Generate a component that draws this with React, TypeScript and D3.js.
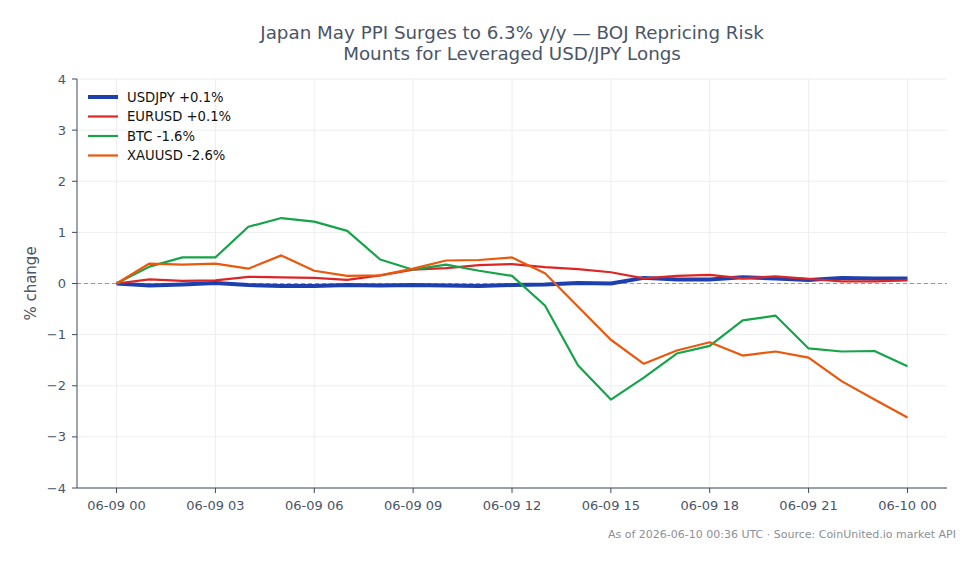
import React from 'react';
import * as d3 from 'd3';

// hourly % change from 06-09 00:00 UTC
const hours = d3.range(0, 25);
const usdjpy = [0, -0.04, -0.02, 0.01, -0.03, -0.05, -0.05, -0.03, -0.04, -0.03, -0.04, -0.05, -0.03, -0.02, 0.01, 0, 0.11, 0.08, 0.08, 0.12, 0.1, 0.07, 0.11, 0.1, 0.1];
const eurusd = [0, 0.08, 0.05, 0.06, 0.13, 0.12, 0.11, 0.07, 0.16, 0.27, 0.3, 0.36, 0.38, 0.32, 0.28, 0.22, 0.1, 0.15, 0.17, 0.1, 0.14, 0.09, 0.04, 0.04, 0.06];
const btc = [0, 0.33, 0.51, 0.51, 1.11, 1.28, 1.21, 1.03, 0.47, 0.27, 0.37, 0.25, 0.15, -0.43, -1.6, -2.27, -1.84, -1.37, -1.22, -0.72, -0.63, -1.27, -1.33, -1.32, -1.62];
const xauusd = [0, 0.39, 0.37, 0.39, 0.29, 0.55, 0.25, 0.15, 0.16, 0.29, 0.45, 0.46, 0.51, 0.2, -0.45, -1.1, -1.57, -1.31, -1.15, -1.41, -1.33, -1.45, -1.91, -2.27, -2.62];

const seriesNames = ['USDJPY', 'EURUSD', 'BTC', 'XAUUSD'];
const seriesValues = [usdjpy, eurusd, btc, xauusd];
const seriesColors = ['#1e40af', '#dc2626', '#16a34a', '#ea580c'];
const seriesWidths = [4, 2.2, 2.2, 2.2];

const xTickHours = [0, 3, 6, 9, 12, 15, 18, 21, 24];
const xTickLabels = ['06-09 00', '06-09 03', '06-09 06', '06-09 09', '06-09 12', '06-09 15', '06-09 18', '06-09 21', '06-10 00'];
const yTicks = [-4, -3, -2, -1, 0, 1, 2, 3, 4];

const W = 979;
const H = 564;
const margin = { top: 79, right: 32, bottom: 76, left: 77 };
const font = '"DejaVu Sans", sans-serif';
const ink = '#4a5568';

const fmtPct = (v: number) => `${v >= 0 ? '+' : ''}${v.toFixed(1)}%`;

export default function App() {
  const x = d3.scaleLinear().domain([-1.2, 25.2]).range([margin.left, W - margin.right]);
  const y = d3.scaleLinear().domain([-4, 4]).range([H - margin.bottom, margin.top]);
  const line = d3.line<number>().x((_, i) => x(hours[i])).y(d => y(d));

  const x0 = margin.left;
  const x1 = W - margin.right;
  const y0 = H - margin.bottom;
  const y1 = margin.top;

  return (
    <svg width={W} height={H} style={{ position: 'absolute', left: 0, top: 0, background: '#fff' }} fontFamily={font}>
      {/* grid */}
      {yTicks.map(t => (
        <line key={'gy' + t} x1={x0} x2={x1} y1={y(t)} y2={y(t)} stroke="#eceef1" strokeWidth={1} />
      ))}
      {xTickHours.map(h => (
        <line key={'gx' + h} x1={x(h)} x2={x(h)} y1={y0} y2={y1} stroke="#eceef1" strokeWidth={1} />
      ))}

      {/* zero reference */}
      <line x1={x0} x2={x1} y1={y(0)} y2={y(0)} stroke="#8a9bb5" strokeWidth={1} strokeDasharray="4,3" />

      {/* series */}
      {seriesValues.map((vals, i) => (
        <path key={seriesNames[i]} d={line(vals) ?? ''} fill="none" stroke={seriesColors[i]}
          strokeWidth={seriesWidths[i]} strokeLinejoin="round" />
      ))}

      {/* axes */}
      <line x1={x0} x2={x0} y1={y1} y2={y0} stroke="#3d4a5c" strokeWidth={1} />
      <line x1={x0} x2={x1} y1={y0} y2={y0} stroke="#3d4a5c" strokeWidth={1} />
      {yTicks.map(t => (
        <g key={'ty' + t}>
          <line x1={x0 - 5} x2={x0} y1={y(t)} y2={y(t)} stroke="#3d4a5c" />
          <text x={x0 - 11} y={y(t)} dy="0.35em" textAnchor="end" fontSize={13} fill={ink}>
            {t < 0 ? '\u2212' + Math.abs(t) : t}
          </text>
        </g>
      ))}
      {xTickHours.map((h, i) => (
        <g key={'tx' + h}>
          <line x1={x(h)} x2={x(h)} y1={y0} y2={y0 + 5} stroke="#3d4a5c" />
          <text x={x(h)} y={y0 + 22} textAnchor="middle" fontSize={13} fill={ink}>{xTickLabels[i]}</text>
        </g>
      ))}
      <text transform={`translate(36,${y(0)}) rotate(-90)`} textAnchor="middle" fontSize={15} fill={ink}>% change</text>

      {/* title */}
      <text x={(x0 + x1) / 2} y={39} textAnchor="middle" fontSize={18.3} fill={ink}>
        Japan May PPI Surges to 6.3% y/y — BOJ Repricing Risk
      </text>
      <text x={(x0 + x1) / 2} y={60} textAnchor="middle" fontSize={18.3} fill={ink}>
        Mounts for Leveraged USD/JPY Longs
      </text>

      {/* legend */}
      {seriesNames.map((name, i) => {
        const vals = seriesValues[i];
        const ly = 97 + i * 19.5;
        return (
          <g key={'lg' + name}>
            <line x1={88} x2={118} y1={ly} y2={ly} stroke={seriesColors[i]} strokeWidth={seriesWidths[i]} />
            <text x={127} y={ly} dy="0.35em" fontSize={13.2} fill="#111">
              {name} {fmtPct(vals[vals.length - 1])}
            </text>
          </g>
        );
      })}

      {/* footer */}
      <text x={956} y={538} textAnchor="end" fontSize={11} fill="#8a8f99">
        As of 2026-06-10 00:36 UTC · Source: CoinUnited.io market API
      </text>
    </svg>
  );
}
